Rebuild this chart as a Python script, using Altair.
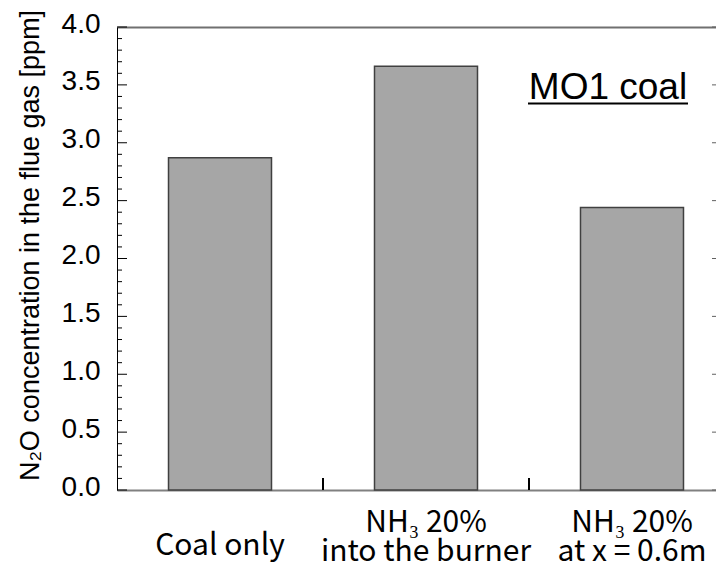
import altair as alt
import pandas as pd

categories = ["Coal only", "NH₃ 20%|into the burner", "NH₃ 20%|at x = 0.6m"]
values = [2.87, 3.66, 2.44]
y_major = [0.0, 0.5, 1.0, 1.5, 2.0, 2.5, 3.0, 3.5, 4.0]
y_minor = [0.1, 0.2, 0.3, 0.4, 0.6, 0.7, 0.8, 0.9, 1.1, 1.2, 1.3, 1.4,
           1.6, 1.7, 1.8, 1.9, 2.1, 2.2, 2.3, 2.4, 2.6, 2.7, 2.8, 2.9,
           3.1, 3.2, 3.3, 3.4, 3.6, 3.7, 3.8, 3.9]
annotation = "MO1 coal"
y_title = "N₂O concentration in the flue gas [ppm]"

df = pd.DataFrame({"cat": categories, "val": values})
major_df = pd.DataFrame({"tick": y_major})
minor_df = pd.DataFrame({"tick": y_minor})

PLOT_W = 599
PLOT_H = 463

# band scale: step 206px, bars 103px, frame continues past the right edge
xscale = alt.Scale(domain=categories, paddingInner=0.5, paddingOuter=0.2039, align=0.6131)
yscale = alt.Scale(domain=[0, 4], nice=False, zero=True)

x_labels_axis = alt.Axis(
    orient="bottom", title=None, ticks=False,
    labelExpr="split(datum.label, '|')",
    labelFont="Noto Sans CJK JP", labelFontSize=30, labelLineHeight=29,
    labelColor="black", labelBaseline="top", labelAngle=0, labelLimit=400,
    labelPadding={"condition": {"test": "datum.value == 'Coal only'", "value": 40}, "value": 17},
    domainColor="#808080", domainWidth=2,
)
x_top_axis = alt.Axis(orient="top", title=None, labels=False, ticks=False,
                      domainColor="#707070", domainWidth=2)

y_labels_axis = alt.Axis(
    orient="left", values=y_major, format=".1f", ticks=False,
    labelFont="Liberation Sans", labelFontSize=28, labelColor="black",
    labelBaseline="alphabetic", labelOffset=5, labelPadding=17,
    labelFlush=False, labelOverlap=False,
    domainColor="black", domainWidth=1, grid=False,
    title=y_title, titleFont="Liberation Sans", titleFontSize=27,
    titleFontWeight="normal", titleColor="black",
    titleX=-79, titleY=218, titleAngle=270, titleAlign="center",
    titleBaseline="alphabetic",
)

bars = alt.Chart(df).mark_bar(color="#a6a6a6", stroke="#404040", strokeWidth=1.5).encode(
    x=alt.X("cat:N", sort=categories, scale=xscale, axis=x_labels_axis),
    y=alt.Y("val:Q", scale=yscale, axis=y_labels_axis),
)
frame_top = alt.Chart(df).mark_bar(opacity=0).encode(
    x=alt.X("cat:N", sort=categories, scale=xscale, axis=x_top_axis),
    y=alt.Y("val:Q", scale=yscale, axis=None),
)

# inward tick marks
major_ticks = alt.Chart(major_df).mark_rule(color="black", strokeWidth=1).encode(
    y=alt.Y("tick:Q", scale=yscale, axis=None), x=alt.value(0), x2=alt.value(10)
)
minor_ticks = alt.Chart(minor_df).mark_rule(color="black", strokeWidth=1).encode(
    y=alt.Y("tick:Q", scale=yscale, axis=None), x=alt.value(0), x2=alt.value(5)
)
right_ticks = alt.Chart(major_df).mark_rule(color="#606060", strokeWidth=1).encode(
    y=alt.Y("tick:Q", scale=yscale, axis=None), x=alt.value(PLOT_W - 4), x2=alt.value(PLOT_W)
)
cat_ticks = alt.Chart(df).mark_rule(color="black", strokeWidth=2, xOffset=51.5).encode(
    x=alt.X("cat:N", sort=categories, scale=xscale, axis=None, bandPosition=1),
    y=alt.value(PLOT_H - 12), y2=alt.value(PLOT_H),
)

label_df = pd.DataFrame({"t": [annotation]})
note = alt.Chart(label_df).mark_text(
    font="Liberation Sans", fontSize=37, color="black", align="center", baseline="alphabetic"
).encode(text="t:N", x=alt.value(491), y=alt.value(72))
underline = alt.Chart(label_df).mark_rule(color="black", strokeWidth=2).encode(
    x=alt.value(411), x2=alt.value(571), y=alt.value(76.5)
)

chart = alt.layer(
    bars, frame_top, major_ticks, minor_ticks, right_ticks, cat_ticks, note, underline
).resolve_axis(
    x="independent", y="independent"
).properties(
    width=PLOT_W, height=PLOT_H,
    autosize=alt.AutoSizeParams(type="none"),
    padding={"left": 109, "top": 19, "right": 0, "bottom": 75},
    background="white",
).configure_view(stroke=None)

chart.save("out.html", embed_options={"renderer": "svg", "actions": False})
